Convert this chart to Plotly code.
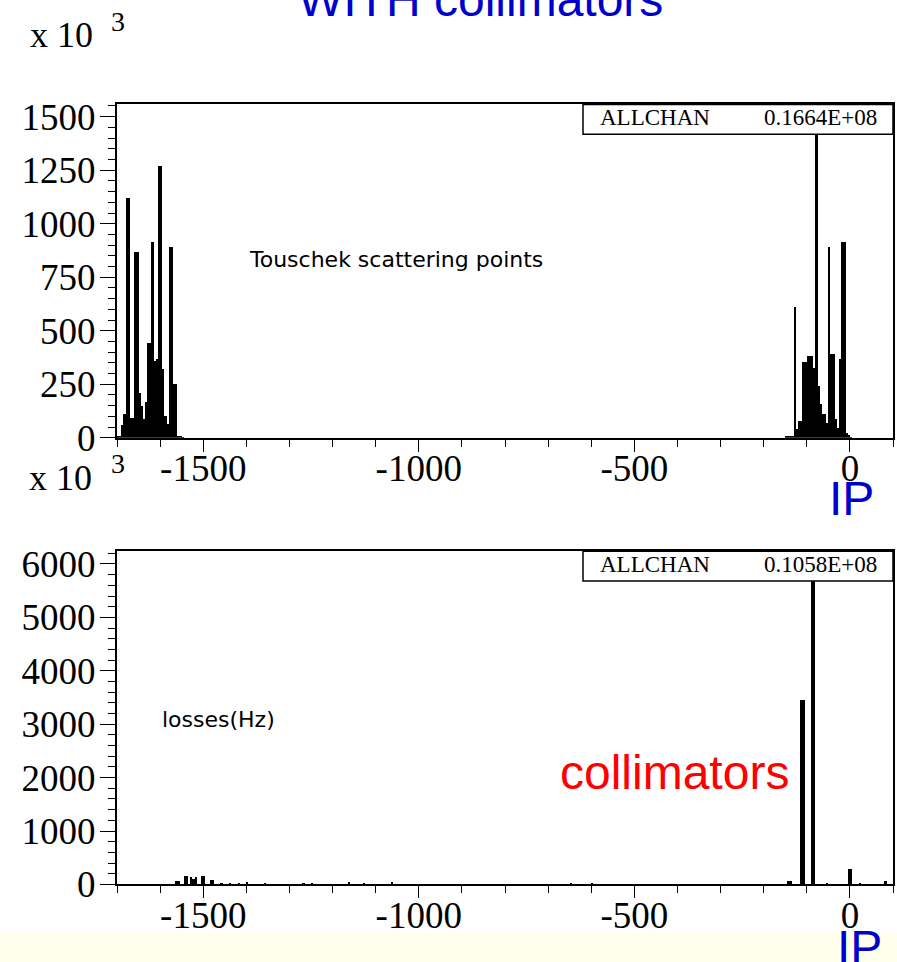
import plotly.graph_objects as go

W, H = 897, 962
FIG_H = 985
DY = 3
BIN = 5

# ---------------- data (values in units of 10^3) ----------------
top_bins = [-1700, -1695, -1690, -1685, -1680, -1675, -1670, -1665, -1660, -1655,
            -1650, -1645, -1640, -1635, -1630, -1625, -1620, -1615, -1610, -1605,
            -1600, -1595, -1590, -1585, -1580, -1575, -1570, -1565, -1560, -1555, -1550,
            -150, -145, -140, -135, -130, -125, -120, -115, -110, -105,
            -100, -95, -90, -85, -80, -75, -70, -65, -60, -55,
            -50, -45, -40, -35, -30, -25, -20, -15, -10, -5, 0]
top_counts = [8, 8, 60, 110, 1120, 1120, 90, 90, 870, 870,
              210, 148, 86, 167, 445, 445, 914, 359, 367, 1270,
              1270, 320, 100, 62, 890, 890, 250, 250, 8, 8, 5,
              8, 8, 8, 8, 609, 40, 78, 78, 352, 352,
              380, 383, 383, 328, 1422, 242, 156, 109, 109, 70,
              890, 390, 390, 86, 47, 367, 914, 914, 20, 15, 5]

bot_bins = [-1565, -1560, -1545, -1540, -1530, -1525, -1520, -1505, -1500, -1485, -1480,
            -1460, -1440, -1420, -1400, -1360, -1270, -1250, -1165, -1130, -1065,
            -650, -600,
            -145, -140, -115, -110, -90, -85, -55, -5, 0, 20, 35, 45, 80]
bot_counts = [62, 62, 154, 154, 142, 100, 142, 154, 154, 92, 92,
              30, 30, 25, 37, 30, 25, 25, 43, 30, 37,
              30, 20,
              60, 60, 3456, 3456, 5674, 5674, 30, 280, 280, 30, 12, 12, 60]

x_tickvals = [-1500, -1000, -500, 0]
x_ticktext = ["-1500", "-1000", "-500", "0"]
top_entries = ("ALLCHAN", "0.1664E+08")
bot_entries = ("ALLCHAN", "0.1058E+08")

# ---------------- helpers ----------------
def px(x):
    return x / W

def py(y):
    return 1 - (y - DY) / H

SERIF = "Liberation Serif"
SANS = "Liberation Sans"
TICKFONT = dict(family=SERIF, size=37, color="black")

fig = go.Figure()
fig.add_trace(go.Bar(x=[b + BIN / 2 for b in top_bins], y=top_counts, width=BIN,
                     marker=dict(color="black", line=dict(width=0)),
                     xaxis="x", yaxis="y", showlegend=False, hoverinfo="skip"))
fig.add_trace(go.Bar(x=[b + BIN / 2 for b in bot_bins], y=bot_counts, width=BIN,
                     marker=dict(color="black", line=dict(width=0)),
                     xaxis="x2", yaxis="y2", showlegend=False, hoverinfo="skip"))

xcommon = dict(range=[-1700, 100], tickmode="array", tickvals=x_tickvals, ticktext=x_ticktext,
               ticks="outside", ticklen=12, tickwidth=1, tickcolor="black", ticklabelstandoff=-15,
               minor=dict(dtick=100, tick0=0, ticks="outside", ticklen=7, tickcolor="black", tickwidth=1),
               showline=True, linecolor="black", linewidth=2, mirror=True,
               showgrid=False, zeroline=False, tickfont=TICKFONT, domain=[px(117), px(893)])
ycommon = dict(ticks="outside", ticklen=15, tickwidth=1, tickcolor="black", ticklabelstandoff=-3,
               showline=True, linecolor="black", linewidth=2, mirror=True,
               showgrid=False, zeroline=False, tickfont=TICKFONT, tickmode="linear", tick0=0)

fig.update_layout(
    width=W, height=FIG_H, autosize=False, margin=dict(l=0, r=0, t=0, b=0),
    paper_bgcolor="white", plot_bgcolor="white", bargap=0,
    xaxis=dict(anchor="y", **xcommon),
    yaxis=dict(anchor="x", range=[0, 1557], dtick=250, domain=[py(436), py(101)],
               minor=dict(dtick=50, ticks="outside", ticklen=7, tickcolor="black", tickwidth=1),
               **ycommon),
    xaxis2=dict(anchor="y2", **xcommon),
    yaxis2=dict(anchor="x2", range=[0, 6240], dtick=1000, domain=[py(885), py(550)],
                minor=dict(dtick=200, ticks="outside", ticklen=7, tickcolor="black", tickwidth=1),
                **ycommon),
)

shapes = [
    dict(type="rect", xref="paper", yref="paper", x0=0, x1=1, y0=0, y1=1 - 930 / H,
         fillcolor="#FFFFEC", line=dict(width=0), layer="below"),
    dict(type="rect", xref="paper", yref="paper", x0=px(583), x1=px(893), y0=py(131), y1=py(101),
         fillcolor="white", line=dict(color="black", width=1.5)),
    dict(type="rect", xref="paper", yref="paper", x0=px(583), x1=px(893), y0=py(580), y1=py(550),
         fillcolor="white", line=dict(color="black", width=1.5)),
]
fig.update_layout(shapes=shapes)

def ann(text, x, y, size, color="black", family=SERIF, xanchor="center"):
    return dict(text=text, x=px(x), y=py(y), xref="paper", yref="paper", showarrow=False,
                xanchor=xanchor, yanchor="middle",
                font=dict(family=family, size=size, color=color))

BLUE = "#0000CC"
anns = [
    ann("WITH collimators", 480, -5, 48, BLUE, SANS),
    ann("x 10", 61, 31, 36),
    ann("3", 118, 18, 28),
    ann("x 10", 60, 476, 36),
    ann("3", 118, 462, 28),
    ann("IP", 851, 497, 48, BLUE, SANS),
    ann("IP", 859, 948, 48, BLUE, SANS),
    ann("collimators", 674, 773, 48, "red", SANS),
    ann("Touschek scattering points", 247, 257, 22, family="DejaVu Sans", xanchor="left"),
    ann("losses(Hz)", 160, 719, 22, family="DejaVu Sans", xanchor="left"),
    ann(top_entries[0], 655, 114, 23),
    ann(top_entries[1], 820, 114, 23),
    ann(bot_entries[0], 655, 563, 23),
    ann(bot_entries[1], 820, 563, 23),
]
fig.update_layout(annotations=anns)

fig.write_html("out.html",
               config={"displayModeBar": False, "responsive": False, "staticPlot": True},
               post_script="document.body.style.margin='0';document.body.style.overflow='hidden';")
